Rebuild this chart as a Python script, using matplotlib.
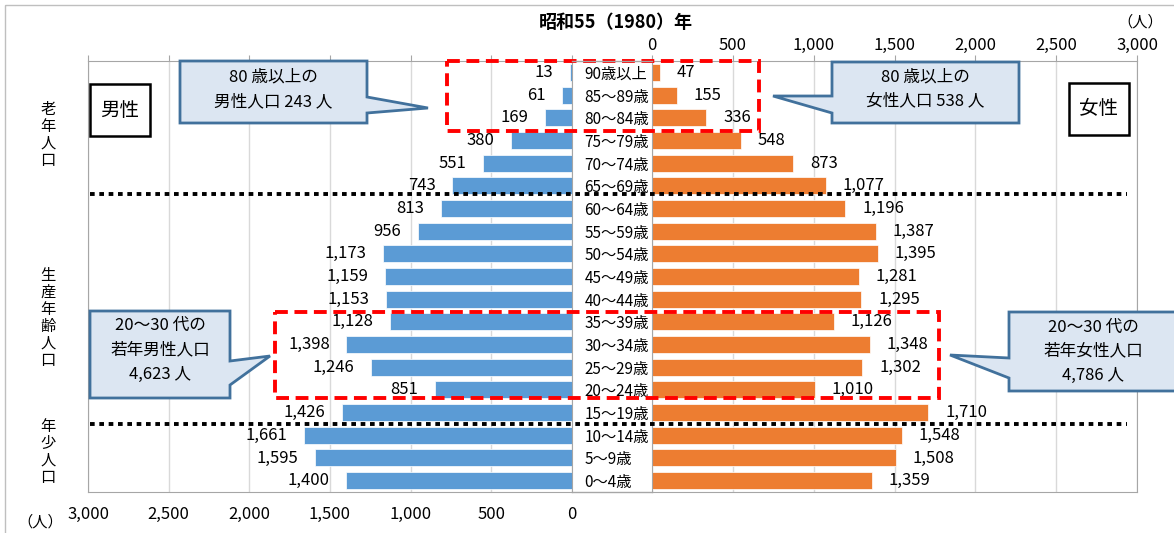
import numpy as np
import matplotlib.pyplot as plt
from matplotlib.patches import Polygon, Rectangle

plt.rcParams['font.family'] = ['Noto Sans CJK JP', 'DejaVu Sans']

# data (persons), top row = oldest
ages = ['90歳以上', '85～89歳', '80～84歳', '75～79歳', '70～74歳', '65～69歳',
        '60～64歳', '55～59歳', '50～54歳', '45～49歳', '40～44歳', '35～39歳',
        '30～34歳', '25～29歳', '20～24歳', '15～19歳', '10～14歳', '5～9歳', '0～4歳']
male = [13, 61, 169, 380, 551, 743, 813, 956, 1173, 1159, 1153, 1128,
        1398, 1246, 851, 1426, 1661, 1595, 1400]
female = [47, 155, 336, 548, 873, 1077, 1196, 1387, 1395, 1281, 1295, 1126,
          1348, 1302, 1010, 1710, 1548, 1508, 1359]
ticks = [0, 500, 1000, 1500, 2000, 2500, 3000]
tick_labels = ['0', '500', '1,000', '1,500', '2,000', '2,500', '3,000']

W, H = 1174, 533
fig = plt.figure(figsize=(W / 100, H / 100), dpi=100)

def box(x0, y0, x1, y1):
    # pixel box -> figure fraction
    return [x0 / W, 1 - y1 / H, (x1 - x0) / W, (y1 - y0) / H]

BLUE = '#5B9BD5'
ORANGE = '#ED7D31'
AXC = '#A6A6A6'
GRID = '#D9D9D9'

ax_l = fig.add_axes(box(88, 61, 572, 492))
ax_r = fig.add_axes(box(652, 61, 1137, 492))
y = np.arange(len(ages))

ax_l.barh(y, male, height=0.75, color=BLUE, edgecolor='white', lw=0.5)
ax_r.barh(y, female, height=0.75, color=ORANGE, edgecolor='white', lw=0.5)
ax_l.set_xlim(3000, 0)
ax_r.set_xlim(0, 3000)

for ax in (ax_l, ax_r):
    ax.set_ylim(len(ages) - 0.5, -0.5)
    ax.set_xticks(ticks)
    ax.set_xticklabels(tick_labels, fontsize=12)
    ax.grid(axis='x', color=GRID, lw=1)
    ax.set_axisbelow(True)
    for s in ax.spines.values():
        s.set_color(AXC)

ax_l.tick_params(axis='x', bottom=False, top=True, labelbottom=True, labeltop=False,
                 length=4, color=AXC, pad=6)
ax_r.tick_params(axis='x', bottom=False, top=True, labelbottom=False, labeltop=True,
                 length=4, color=AXC, pad=1)

# age labels in the middle column
ax_l.yaxis.tick_right()
ax_l.set_yticks(y)
ax_l.set_yticklabels(ages, fontsize=11)
ax_l.tick_params(axis='y', length=0, pad=9)
ax_r.set_yticks([])

for i, v in enumerate(male):
    ax_l.annotate(f'{v:,}', (v, i), xytext=(-12, 0), textcoords='offset points',
                  ha='right', va='center', fontsize=12)
for i, v in enumerate(female):
    ax_r.annotate(f'{v:,}', (v, i), xytext=(12, 0), textcoords='offset points',
                  ha='left', va='center', fontsize=12)

# overlay in pixel coords for the decorations
ov = fig.add_axes([0, 0, 1, 1], zorder=5)
ov.set_xlim(0, W)
ov.set_ylim(H, 0)
ov.axis('off')
ov.patch.set_alpha(0)

ov.add_patch(Rectangle((5, 5), 1200, 600, fill=False, ec='#BFBFBF', lw=1))
ov.plot([572, 652], [61, 61], color=AXC, lw=1)
ov.plot([572, 652], [492, 492], color=AXC, lw=1)

ov.text(616, 22, '昭和55（1980）年', ha='center', va='center',
        fontsize=13, fontweight='bold')
ov.text(1140, 22, '（人）', ha='center', va='center', fontsize=11)
ov.text(40, 522, '（人）', ha='center', va='center', fontsize=11)

# age group separators
for yy in (194, 424):
    ov.plot([90, 1127], [yy, yy], color='black', lw=2.8, linestyle=(0, (1.2, 1.2)))

# red dashed boxes
for x0, y0, x1, y1 in [(447, 61, 759, 131), (275, 312, 939, 398)]:
    ov.add_patch(Rectangle((x0, y0), x1 - x0, y1 - y0, fill=False, ec='#FF0000',
                           lw=2.8, linestyle=(0, (3.3, 1.7))))

# callouts
CFILL = '#DCE6F2'
CEDGE = '#41719C'
callouts = [
    ([(180, 61), (367, 61), (367, 97), (428, 108), (367, 113), (367, 123), (180, 123)],
     273, [77, 102], ['80 歳以上の', '男性人口 243 人']),
    ([(832, 62), (1019, 62), (1019, 123), (832, 123), (832, 113), (773, 96), (832, 96)],
     925, [77, 101], ['80 歳以上の', '女性人口 538 人']),
    ([(90, 311), (230, 311), (230, 361), (270, 356), (230, 385), (230, 398), (90, 398)],
     160, [325, 350, 374], ['20～30 代の', '若年男性人口', '4,623 人']),
    ([(1009, 312), (1180, 312), (1180, 391), (1009, 391), (1009, 378), (950, 355), (1009, 358)],
     1093, [327, 351, 375], ['20～30 代の', '若年女性人口', '4,786 人']),
]
for pts, cx, ys, lines in callouts:
    ov.add_patch(Polygon(pts, closed=True, fc=CFILL, ec=CEDGE, lw=2))
    for yy, t in zip(ys, lines):
        ov.text(cx, yy, t, ha='center', va='center', fontsize=12)

# sex boxes
for x0, y0, t in [(90, 84, '男性'), (1069, 83, '女性')]:
    ov.add_patch(Rectangle((x0, y0), 60, 52, fc='white', ec='black', lw=1.8))
    ov.text(x0 + 30, y0 + 26, t, ha='center', va='center', fontsize=14)

# vertical group labels
for yy, t in [(135, '老年人口'), (318, '生産年齢人口'), (452, '年少人口')]:
    ov.text(48, yy, '\n'.join(t), ha='center', va='center', fontsize=11, linespacing=1.0)

fig.savefig('out.png', dpi=100)
